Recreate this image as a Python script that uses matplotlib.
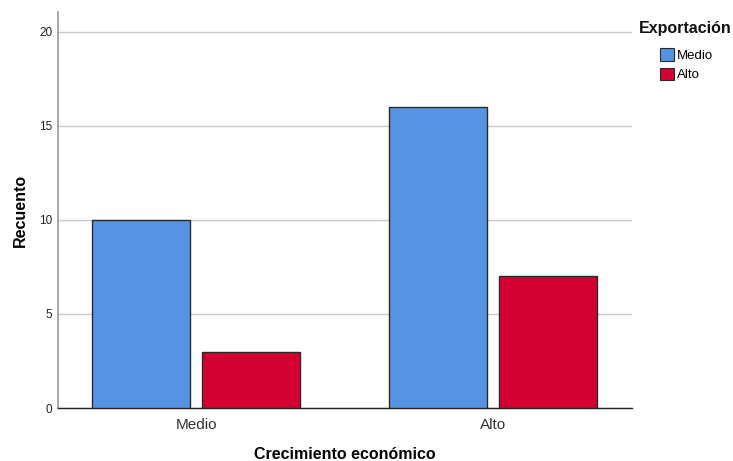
import matplotlib
matplotlib.use("Agg")
import matplotlib.pyplot as plt
from matplotlib.patches import Patch
import numpy as np

plt.rcParams["font.family"] = ["Liberation Sans", "DejaVu Sans"]

categories = ["Medio", "Alto"]
series_names = ["Medio", "Alto"]
medio_vals = [10, 16]
alto_vals = [3, 7]
colors = ["#5694E3", "#D50032"]

fig = plt.figure(figsize=(7.33, 4.61), dpi=100)
ax = fig.add_axes([58/733, 53/461, 574/733, 396/461])

x = np.arange(len(categories))
w = 0.33
off = 0.185
ax.bar(x - off, medio_vals, w, color=colors[0], edgecolor="#2a2a2a", linewidth=1, zorder=3)
ax.bar(x + off, alto_vals, w, color=colors[1], edgecolor="#2a2a2a", linewidth=1, zorder=3)

ax.set_xlim(-0.465, 1.468)
ax.set_ylim(0, 21.06)
ax.set_yticks([0, 5, 10, 15, 20])
ax.set_xticks(x)
ax.set_xticklabels(categories, fontsize=11, color="#333333")
ax.tick_params(axis="y", length=0, labelsize=8.5, pad=4, colors="#222222")
ax.tick_params(axis="x", length=0, pad=7)
ax.yaxis.grid(True, color="#c8c8c8", linewidth=1, zorder=0)
ax.set_axisbelow(True)
for s in ["top", "right"]:
    ax.spines[s].set_visible(False)
ax.spines["left"].set_color("#999999")
ax.spines["left"].set_linewidth(1.2)
ax.spines["bottom"].set_color("#222222")
ax.spines["bottom"].set_linewidth(1)

ax.set_ylabel("Recuento", fontsize=11.5, fontweight="bold", labelpad=8)
ax.set_xlabel("Crecimiento económico", fontsize=11.5, fontweight="bold", labelpad=11)

fig.text(639/733, 1 - 28/461, "Exportación", fontsize=11.5, fontweight="bold",
         ha="left", va="center", color="#111111")
handles = [Patch(facecolor=c, edgecolor="#2a2a2a", linewidth=0.8) for c in colors]
leg = fig.legend(handles, series_names, loc="upper left",
                 bbox_to_anchor=(648/733, 1 - 36/461), frameon=False, fontsize=9.5,
                 handlelength=1.05, handleheight=1.1, handletextpad=0.25, labelspacing=0.45)

fig.savefig("out.png", dpi=100)
